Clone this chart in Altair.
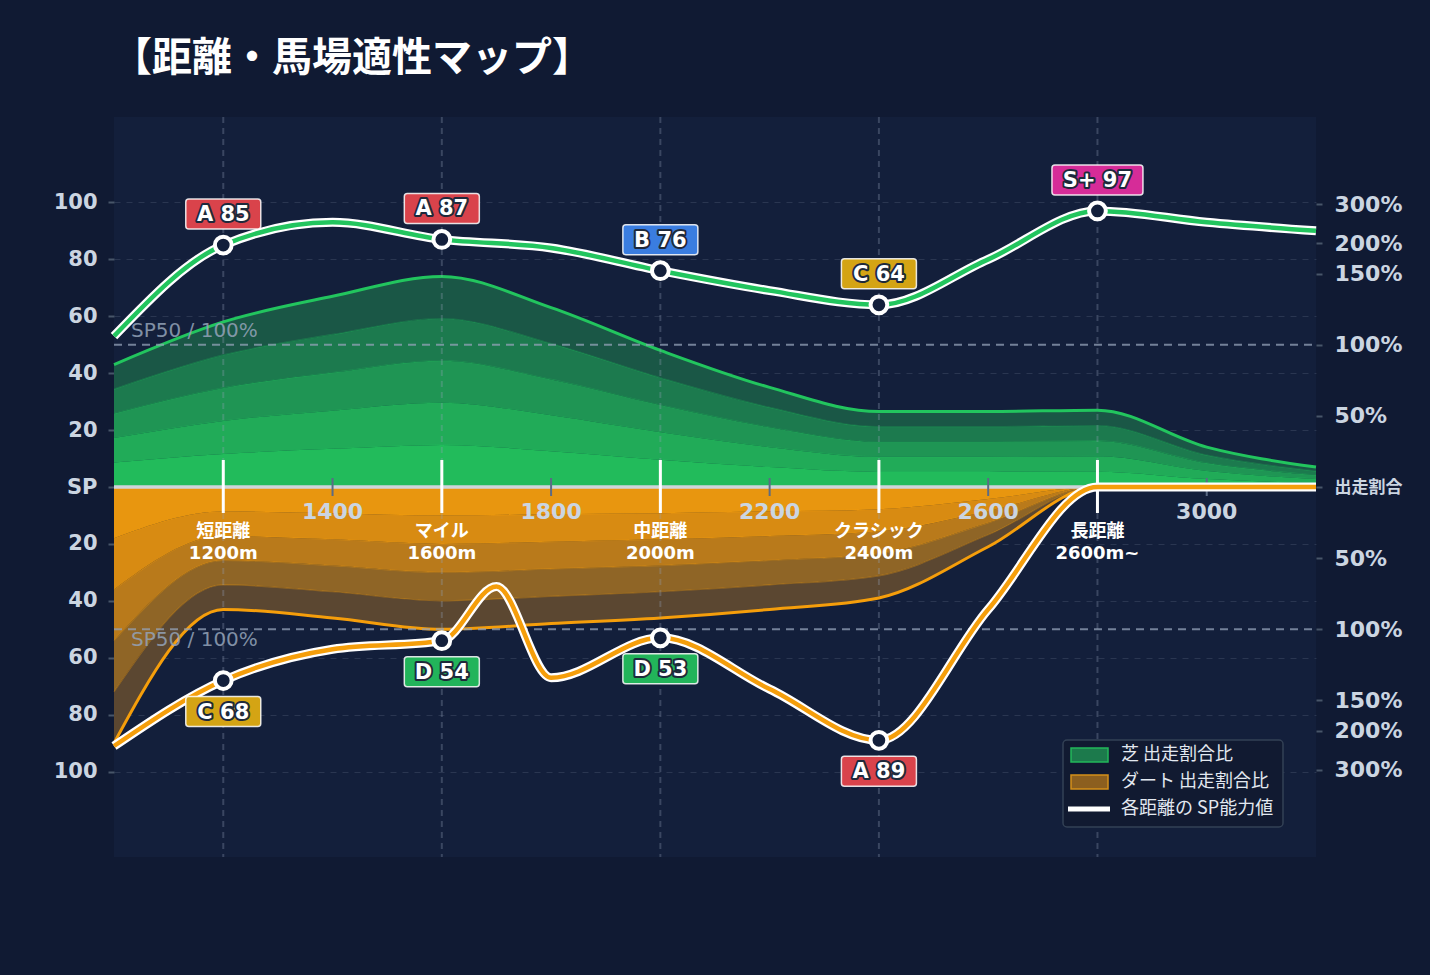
import altair as alt
import pandas as pd

# ---------------------------------------------------------------- data ----
# distance grid (m)
TURF_DIST = [1000, 1200, 1400, 1600, 1800, 2000, 2200, 2400, 2600, 2800, 3000, 3200]
# 芝: 出走割合 (drawn on the SP scale) and SP能力値
TURF_SHARE = [43, 58, 67, 74, 63, 48, 35, 26.5, 26.5, 27, 14, 7]
TURF_SP = [53, 85, 93, 87, 84, 76, 69, 64, 80, 97, 93, 90]

# ダート: 出走割合 (same grid) and SP能力値 (own grid)
DIRT_SHARE = [90, 43, 46, 50, 48, 46, 43, 39, 21, 0, 0, 0]
DIRT_SP_DIST = [1000, 1200, 1400, 1600, 1700, 1800, 2000, 2200, 2400, 2600, 2800, 3000, 3200]
DIRT_SP = [91, 68, 57, 54, 35, 67, 53, 71, 89, 43, 0, 0, 0]

# distance classes
CLASS_DIST = [1200, 1600, 2000, 2400, 2800]
CLASS_NAME = ["短距離", "マイル", "中距離", "クラシック", "長距離"]
CLASS_RANGE = ["1200m", "1600m", "2000m", "2400m", "2600m~"]
TURF_GRADE = ["A", "A", "B", "C", "S+"]
DIRT_GRADE = ["C", "D", "D", "A", ""]

MINOR_DIST = [1400, 1800, 2200, 2600, 3000]
SP_TICKS = [-100, -80, -60, -40, -20, 0, 20, 40, 60, 80, 100]
SHARE_LABELS = ["50%", "100%", "150%", "200%", "300%"]
SHARE_POS = [25, 50, 75, 85.6, 99.3]
SP50 = 50
LEGEND_ITEMS = ["芝 出走割合比", "ダート 出走割合比", "各距離の SP能力値"]

# -------------------------------------------------------------- styles ----
W, H = 1202, 740
BG = "#101a33"
PLOT_BG = "#131f3b"
GREEN = "#22c55e"
ORANGE = "#f59e0b"
GREEN_BANDS = ["#22bb5b", "#21ab58", "#1f9554", "#1c7a4e", "#1a5746"]
ORANGE_BANDS = ["#e8960f", "#d88b12", "#b97a1b", "#8f6526", "#5b4731"]
GRADE_COLOR = {"S+": "#d62c98", "A": "#d9434b", "B": "#3a7de0", "C": "#d4a414", "D": "#22b45a"}
NUM_FONT = "DejaVu Sans, Noto Sans CJK JP"
JP_FONT = "Noto Sans CJK JP"
LABEL_COLOR = "#cbd5e1"

xs = alt.Scale(domain=[TURF_DIST[0], TURF_DIST[-1]], nice=False, zero=False)
ys = alt.Scale(domain=[-130, 130], nice=False, zero=False)


def X(field="dist"):
    return alt.X(f"{field}:Q", scale=xs, axis=None)


def Y(field, axis=None):
    return alt.Y(f"{field}:Q", scale=ys, axis=axis)


turf = pd.DataFrame({"dist": TURF_DIST, "share": TURF_SHARE, "sp": TURF_SP})
dirt = pd.DataFrame({"dist": TURF_DIST, "share": DIRT_SHARE})
dirt_sp = pd.DataFrame({"dist": DIRT_SP_DIST, "sp": [-v for v in DIRT_SP]})

left_axis = alt.Axis(
    values=SP_TICKS,
    labelExpr="datum.value == 0 ? 'SP' : abs(datum.value)",
    grid=True, gridDash=[6, 6], gridColor="#94a3b8", gridOpacity=0.18, gridWidth=1,
    domain=False, ticks=True, tickColor="#475569", tickSize=6, tickWidth=2,
    labelPadding=11, labelFontSize=21, labelFontWeight="bold",
    labelColor=LABEL_COLOR, labelFont=NUM_FONT, title=None,
)

share_values = [-p for p in SHARE_POS[::-1]] + [0] + SHARE_POS
share_expr = "abs(datum.value) < 0.01 ? '出走割合' : "
for pos, lab in zip(SHARE_POS, SHARE_LABELS):
    share_expr += f"abs(abs(datum.value) - {pos}) < 0.01 ? '{lab}' : "
share_expr += "''"
right_axis = alt.Axis(
    orient="right", values=share_values, labelExpr=share_expr,
    grid=False, domain=False, ticks=True, tickColor="#475569", tickSize=6, tickWidth=2,
    labelPadding=12,
    labelFontSize={"condition": {"test": "abs(datum.value) < 0.01", "value": 17}, "value": 22},
    labelFontWeight="bold", labelColor=LABEL_COLOR, labelFont=NUM_FONT, title=None,
)


# ------------------------------------------------------ share bands ----
def share_bands(df, sign, colors, edge, edge_opacity, first_axis=None):
    layers = []
    for k in range(5):
        lo, hi = k / 5, (k + 1) / 5
        layers.append(
            alt.Chart(df)
            .transform_calculate(top=f"{sign} * datum.share * {hi}", bot=f"{sign} * datum.share * {lo}")
            .mark_area(interpolate="monotone", color=colors[k], opacity=1)
            .encode(x=X(), y=Y("top", first_axis if k == 0 else None), y2="bot:Q")
        )
    for k in range(1, 5):
        layers.append(
            alt.Chart(df)
            .transform_calculate(v=f"{sign} * datum.share * {k / 5}")
            .mark_line(interpolate="monotone", color=edge, strokeWidth=1.2, opacity=edge_opacity)
            .encode(x=X(), y=Y("v"))
        )
    layers.append(
        alt.Chart(df)
        .transform_calculate(v=f"{sign} * datum.share")
        .mark_line(interpolate="monotone", color=edge, strokeWidth=3)
        .encode(x=X(), y=Y("v"))
    )
    return layers


green_layers = share_bands(turf, 1, GREEN_BANDS, GREEN, 0.3, first_axis=left_axis)
orange_layers = share_bands(dirt, -1, ORANGE_BANDS, ORANGE, 0.35)

# ------------------------------------------------------ guides ----
class_df = pd.DataFrame({"dist": CLASS_DIST, "name": CLASS_NAME, "range": CLASS_RANGE})
minor_df = pd.DataFrame({"dist": MINOR_DIST})

class_rules = alt.Chart(class_df).mark_rule(
    color="#94a3b8", opacity=0.3, strokeDash=[6, 5], strokeWidth=2
).encode(x=X(), y=alt.value(0), y2=alt.value(H))

sp50_df = pd.DataFrame({"v": [SP50, -SP50]})
sp50_rules = alt.Chart(sp50_df).mark_rule(
    color="#94a3b8", opacity=0.75, strokeDash=[8, 6], strokeWidth=2
).encode(x=alt.value(0), x2=alt.value(W), y=Y("v", right_axis))

sp50_kw = dict(text="SP50 / 100%", align="left", baseline="middle", dx=17,
               fontSize=20, font=NUM_FONT, color="#94a3b8", opacity=0.85)
sp50_up = alt.Chart(pd.DataFrame({"v": [SP50]})).mark_text(dy=-14, **sp50_kw).encode(
    x=alt.X(datum=TURF_DIST[0], scale=xs, axis=None), y=Y("v"))
sp50_dn = alt.Chart(pd.DataFrame({"v": [-SP50]})).mark_text(dy=11, **sp50_kw).encode(
    x=alt.X(datum=TURF_DIST[0], scale=xs, axis=None), y=Y("v"))

center_line = alt.Chart(pd.DataFrame({"a": [TURF_DIST[0]], "b": [TURF_DIST[-1]], "v": [0]})).mark_rule(
    color="#cfd4da", strokeWidth=3.5
).encode(x=X("a"), x2="b:Q", y=Y("v"))

major_ticks = alt.Chart(class_df).mark_rule(color="white", strokeWidth=3).encode(
    x=X(), y=alt.value(H / 2 - 27), y2=alt.value(H / 2 + 26)
)
minor_ticks = alt.Chart(minor_df).mark_rule(color="#5b6b85", strokeWidth=2).encode(
    x=X(), y=alt.value(H / 2 - 9), y2=alt.value(H / 2 + 9)
)
minor_labels = alt.Chart(minor_df).mark_text(
    fontSize=22, fontWeight="bold", font=NUM_FONT, color=LABEL_COLOR, baseline="middle"
).encode(x=X(), y=alt.value(H / 2 + 25), text="dist:Q")
class_labels = alt.Chart(class_df).transform_calculate(
    lab="datum.name + '\\n' + datum.range"
).mark_text(
    fontSize=18, fontWeight="bold", font=NUM_FONT, color="white", baseline="middle",
    lineBreak="\n", lineHeight=22,
).encode(x=X(), y=alt.value(H / 2 + 45), text="lab:N")


# ------------------------------------------------------ SP curves ----
def sp_line(df, color):
    halo = alt.Chart(df).mark_line(interpolate="monotone", color="white", strokeWidth=9).encode(
        x=X(), y=Y("sp"))
    core = alt.Chart(df).mark_line(interpolate="monotone", color=color, strokeWidth=4.5).encode(
        x=X(), y=Y("sp"))
    return [halo, core]


turf_lines = sp_line(turf[["dist", "sp"]], GREEN)
dirt_lines = sp_line(dirt_sp, ORANGE)

# ------------------------------------------------------ markers & badges ----
turf_at = [TURF_SP[TURF_DIST.index(d)] for d in CLASS_DIST]
dirt_at = [DIRT_SP[DIRT_SP_DIST.index(d)] for d in CLASS_DIST]

turf_marks = pd.DataFrame({"dist": CLASS_DIST, "sp": turf_at, "grade": TURF_GRADE, "val": turf_at})
dirt_marks = pd.DataFrame({"dist": CLASS_DIST, "sp": [-v for v in dirt_at], "grade": DIRT_GRADE, "val": dirt_at})
dirt_marks = dirt_marks[dirt_marks.grade != ""]

for df in (turf_marks, dirt_marks):
    df["label"] = df["grade"] + " " + df["val"].astype(str)
    df["fill"] = df["grade"].map(GRADE_COLOR)


def markers(df):
    return alt.Chart(df).mark_point(
        filled=True, fill=PLOT_BG, stroke="white", strokeWidth=4, size=280, opacity=1
    ).encode(x=X(), y=Y("sp"))


def badges(df, shift):
    layers = []
    df = df.copy()
    df["w"] = df["label"].str.len().map(lambda n: 75 if n <= 4 else 91)
    for w in sorted(df["w"].unique()):
        part = df[df["w"] == w]
        layers.append(
            alt.Chart(part).mark_rect(
                width=int(w), height=30, cornerRadius=3, yOffset=shift,
                stroke="white", strokeOpacity=0.85, strokeWidth=1.5,
            ).encode(x=X(), y=Y("sp"), fill=alt.Fill("fill:N", scale=None, legend=None))
        )
    text_kw = dict(fontSize=21, fontWeight="bold", font=NUM_FONT, baseline="middle", dy=shift + 1)
    layers.append(
        alt.Chart(df).mark_text(color="white", stroke="#1e293b", strokeWidth=4, strokeJoin="round", **text_kw)
        .encode(x=X(), y=Y("sp"), text="label:N")
    )
    layers.append(
        alt.Chart(df).mark_text(color="white", **text_kw).encode(x=X(), y=Y("sp"), text="label:N")
    )
    return layers


# ------------------------------------------------------ legend box ----
LEG_X, LEG_Y, LEG_W, LEG_H = 949, 623, 220, 87
ROW_Y = [LEG_Y + 15 + 27 * i for i in range(3)]
legend_df = pd.DataFrame({"series": LEGEND_ITEMS})

legend_layers = [
    alt.Chart(legend_df.head(1)).mark_rect(
        fill="#111a31", stroke="#334155", strokeWidth=1.5, cornerRadius=4
    ).encode(x=alt.value(LEG_X), x2=alt.value(LEG_X + LEG_W), y=alt.value(LEG_Y), y2=alt.value(LEG_Y + LEG_H))
]
swatches = [("#1c7a4c", "#22b85a"), ("#8c5f1f", "#d4901a")]
for i, (fill, stroke) in enumerate(swatches):
    legend_layers.append(
        alt.Chart(legend_df.iloc[[i]]).mark_rect(fill=fill, stroke=stroke, strokeWidth=1.5).encode(
            x=alt.value(LEG_X + 8), x2=alt.value(LEG_X + 45),
            y=alt.value(ROW_Y[i] - 7), y2=alt.value(ROW_Y[i] + 7))
    )
legend_layers.append(
    alt.Chart(legend_df.iloc[[2]]).mark_rule(color="white", strokeWidth=5).encode(
        x=alt.value(LEG_X + 5), x2=alt.value(LEG_X + 47), y=alt.value(ROW_Y[2]))
)
for i in range(3):
    legend_layers.append(
        alt.Chart(legend_df.iloc[[i]]).mark_text(
            align="left", baseline="middle", fontSize=18, font=JP_FONT, color="#e2e8f0"
        ).encode(x=alt.value(LEG_X + 58), y=alt.value(ROW_Y[i]), text="series:N")
    )

layers = (
    green_layers + orange_layers
    + [class_rules, sp50_up, sp50_dn, sp50_rules, center_line, minor_ticks, major_ticks, minor_labels, class_labels]
    + turf_lines + dirt_lines
    + [markers(turf_marks), markers(dirt_marks)]
    + badges(turf_marks, -31) + badges(dirt_marks, 31)
    + legend_layers
)

chart = (
    alt.layer(*layers)
    .resolve_axis(y="independent")
    .properties(
        width=W, height=H, autosize="none", background=BG,
        padding={"left": 114, "top": 117, "right": 114, "bottom": 118},
        title=alt.TitleParams(
            "【距離・馬場適性マップ】", anchor="start", frame="group", fontSize=40, fontWeight="bold",
            color="white", font=JP_FONT, offset=5, dx=-2, baseline="alphabetic",
        ),
    )
    .configure_view(fill=PLOT_BG, stroke=None)
)

chart.save("out.html", embed_options={"renderer": "svg", "actions": False})
